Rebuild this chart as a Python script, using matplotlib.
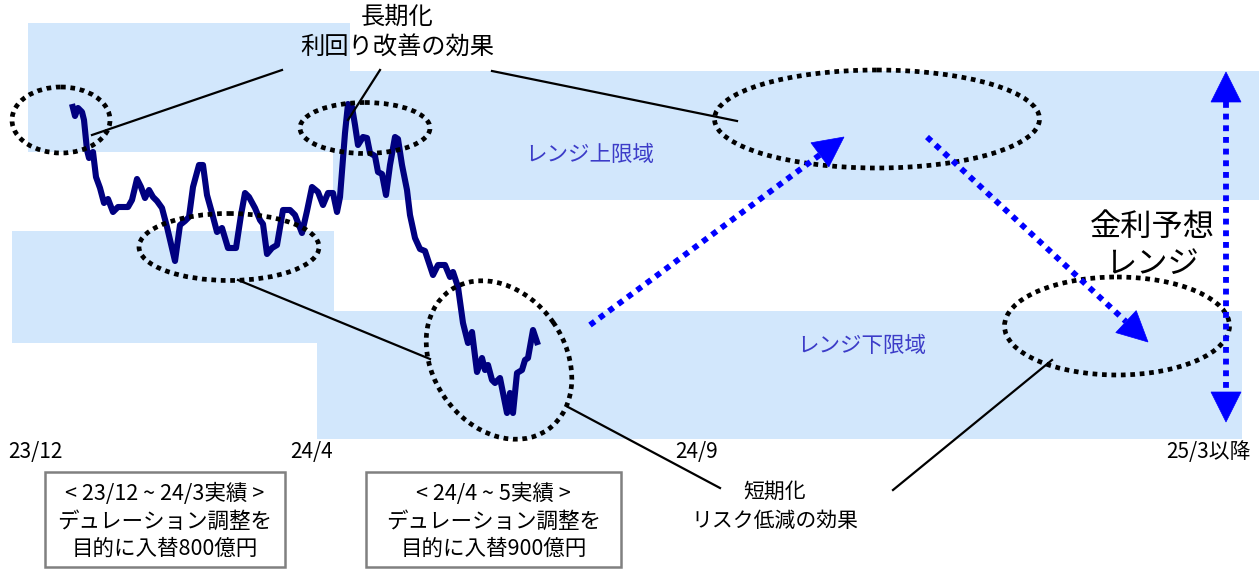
import matplotlib
matplotlib.use("Agg")
import matplotlib.pyplot as plt
from matplotlib.patches import Rectangle, Ellipse, Polygon
import numpy as np

plt.rcParams['font.family'] = ['Noto Sans CJK JP', 'DejaVu Sans']

# ---- data: schematic yield path (horizontal position, level in chart units; level grows downward) ----
path_x = [72, 75, 78, 82, 84, 87, 89, 93, 96, 100, 104, 108, 113, 118, 128, 132, 137, 141, 145, 149,
          153, 157, 162, 167, 175, 180, 185, 189, 193, 199, 203, 207, 212, 217, 222, 228, 236, 241, 245, 249,
          255, 260, 263, 267, 272, 277, 283, 290, 295, 302, 307, 312, 318, 323, 328, 333, 337, 340, 345, 348,
          352, 355, 358, 363, 367, 370, 375, 378, 382, 386, 390, 395, 398, 402, 407, 410, 415, 420, 425, 428,
          433, 438, 445, 450, 453, 458, 463, 468, 472, 477, 482, 485, 488, 492, 495, 500, 503, 507, 510, 513,
          517, 522, 525, 528, 533, 538]
path_y = [104, 116, 108, 112, 120, 150, 158, 152, 177, 188, 203, 199, 212, 207, 207, 200, 179, 187, 198, 190,
          197, 201, 208, 227, 261, 225, 221, 217, 187, 165, 165, 195, 213, 232, 228, 248, 248, 215, 193, 197,
          208, 220, 224, 254, 248, 245, 210, 210, 215, 233, 211, 187, 192, 205, 193, 193, 212, 197, 133, 104,
          107, 125, 145, 137, 138, 153, 156, 172, 174, 195, 165, 137, 139, 165, 190, 215, 238, 249, 251, 260,
          275, 265, 265, 277, 272, 287, 323, 343, 332, 372, 358, 370, 365, 380, 383, 378, 393, 413, 393, 413,
          373, 370, 360, 358, 330, 345]

tick_labels = ['23/12', '24/4', '24/9', '25/3以降']
tick_pos = [35, 312, 697, 1208]

box1_lines = ['< 23/12 ~ 24/3実績 >', 'デュレーション調整を', '目的に入替800億円']
box2_lines = ['< 24/4 ~ 5実績 >', 'デュレーション調整を', '目的に入替900億円']

# ---- figure ----
W, H = 1259, 573
fig = plt.figure(figsize=(W / 100, H / 100), dpi=100)
ax = fig.add_axes([0, 0, 1, 1])
ax.set_xlim(0, W)
ax.set_ylim(H, 0)
ax.axis('off')

shade = '#d2e7fc'
for (x0, y0, x1, y1) in [(28, 23, 350, 152), (333, 71, 1259, 200),
                         (12, 231, 334, 343), (317, 311, 1242, 439)]:
    ax.add_patch(Rectangle((x0, y0), x1 - x0, y1 - y0, facecolor=shade, edgecolor='none', zorder=0))

# range labels
ax.text(590, 155, 'レンジ上限域', color='#3c3cc8', fontsize=15.5, ha='center', va='center')
ax.text(862, 346, 'レンジ下限域', color='#3c3cc8', fontsize=15.5, ha='center', va='center')

# yield path
ax.plot(path_x, path_y, color='#000080', lw=4.4, solid_joinstyle='round', solid_capstyle='butt', zorder=3)

# dotted ellipses
ell_style = dict(fill=False, edgecolor='black', lw=3.4, linestyle=(0, (1, 1)), zorder=4)
for (cx, cy, w, h, ang) in [(61, 120, 98, 66, 0), (365, 128, 130, 51, 0), (229, 247, 180, 67, 0),
                            (877, 119, 325, 98, 0), (1117, 326, 225, 98, 0), (499, 360, 170, 132, 55)]:
    e = Ellipse((cx, cy), w, h, angle=ang, **ell_style)
    e.set_capstyle('butt')
    ax.add_patch(e)

# leader lines
for (p, q) in [((92, 135), (282, 70)), ((348, 120), (380, 70)), ((492, 71), (737, 121)),
               ((238, 280), (430, 359)), ((568, 407), (720, 488)), ((893, 490), (1052, 360))]:
    ax.plot([p[0], q[0]], [p[1], q[1]], color='black', lw=1.6, zorder=5)

# blue dotted arrows
blue = '#0000ff'


def head(tip, direction, length=30, width=30):
    d = np.asarray(direction, float)
    d = d / np.hypot(*d)
    n = np.array([-d[1], d[0]])
    t = np.asarray(tip, float)
    b = t - d * length
    ax.add_patch(Polygon([t, b + n * width / 2, b - n * width / 2], closed=True,
                         facecolor=blue, edgecolor=blue, lw=0.5, zorder=6))
    return b


def dotted_arrow(p0, p1, both=False):
    p0 = np.asarray(p0, float)
    p1 = np.asarray(p1, float)
    d = p1 - p0
    e1 = head(p1, d)
    e0 = head(p0, -d) if both else p0
    ax.plot([e0[0], e1[0]], [e0[1], e1[1]], color=blue, lw=4.2, linestyle=(0, (1, 1)),
            dash_capstyle='butt', zorder=6)


dotted_arrow((590, 325), (844, 137))
dotted_arrow((927, 137), (1148, 342))
dotted_arrow((1226, 72), (1226, 422), both=True)

# annotation texts
ax.text(397, 17, '長期化', fontsize=17.5, ha='center', va='center', zorder=7)
ax.text(397, 48, '利回り改善の効果', fontsize=17.5, ha='center', va='center', zorder=7)
ax.text(775, 492, '短期化', fontsize=15, ha='center', va='center', zorder=7)
ax.text(775, 521, 'リスク低減の効果', fontsize=15, ha='center', va='center', zorder=7)
ax.text(1152, 227, '金利予想', fontsize=22.5, ha='center', va='center', zorder=7)
ax.text(1152, 264, 'レンジ', fontsize=22.5, ha='center', va='center', zorder=7)

# period tick labels
for lab, x in zip(tick_labels, tick_pos):
    ax.text(x, 452, lab, fontsize=15, ha='center', va='center')

# result boxes
for (x0, x1, lines) in [(45, 285, box1_lines), (366, 621, box2_lines)]:
    ax.add_patch(Rectangle((x0, 472), x1 - x0, 95, facecolor='white', edgecolor='#808080', lw=1.8))
    for i, t in enumerate(lines):
        ax.text((x0 + x1) / 2, 494 + 27.5 * i, t, fontsize=15.5, ha='center', va='center')

fig.savefig('out.png', dpi=100)
